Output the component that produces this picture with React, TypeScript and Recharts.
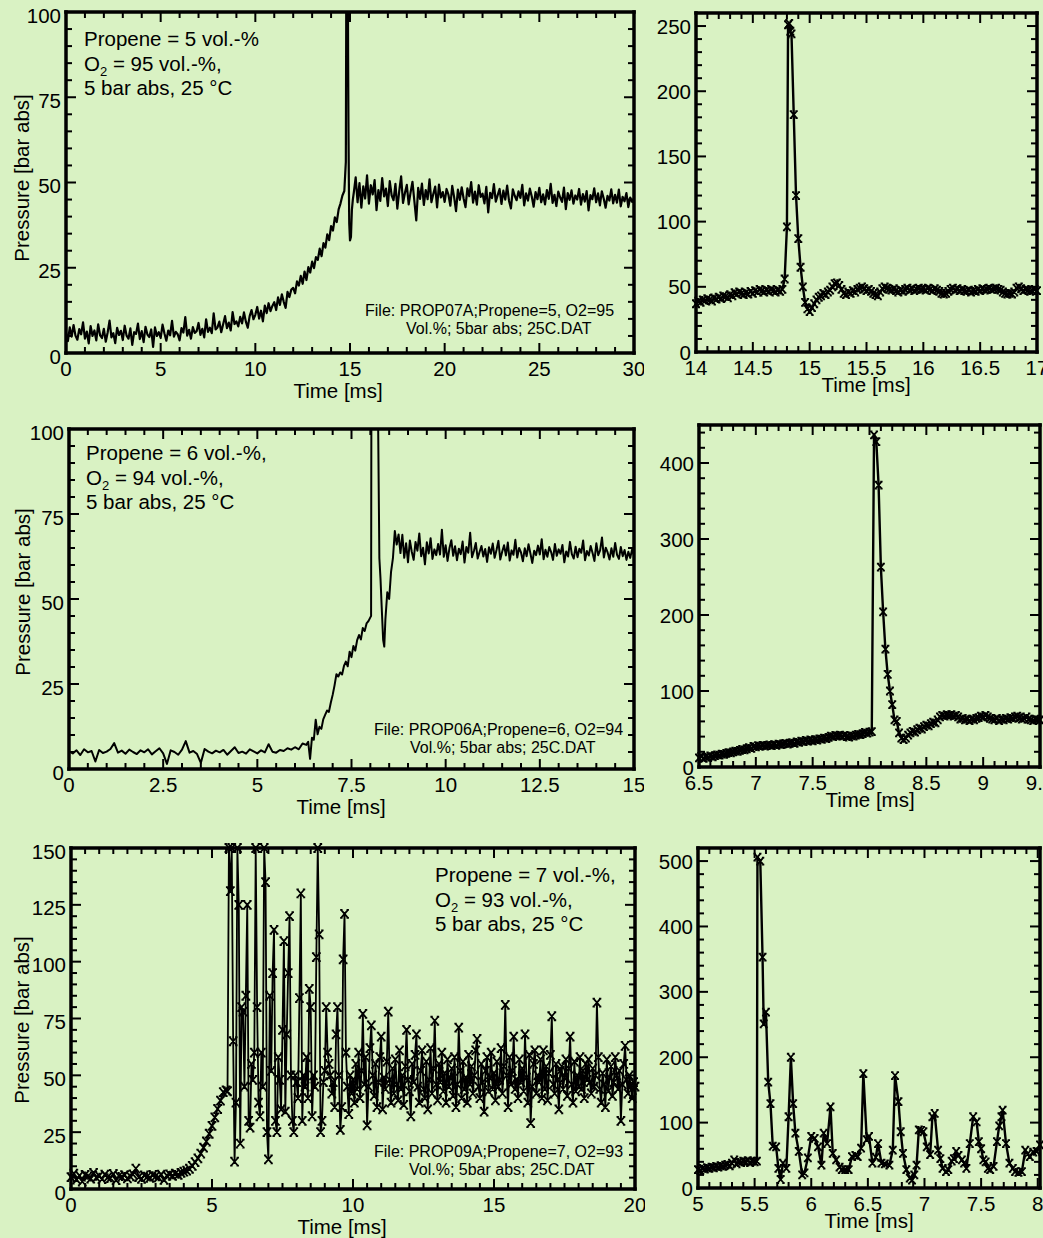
import { Line, LineChart, XAxis, YAxis } from "recharts";

const FONT = "'Liberation Sans', Arial, Helvetica, sans-serif";
const BG = "#D9F2C3";

type Pt = { t: number; p: number };

// uniformly sampled piece of a trace: start time, sample step, pressures
function seg(start: number, step: number, values: number[]): Pt[] {
  return values.map((p, i) => ({ t: +(start + i * step).toFixed(4), p }));
}
function pairs(list: number[][]): Pt[] {
  return list.map(([t, p]) => ({ t, p }));
}

// ---------- PROP07A, propene 5 % (overview 0-30 ms) ----------
const p1XTicks = [0, 5, 10, 15, 20, 25, 30];
const p1YTicks = [0, 25, 50, 75, 100];
const p1Pre = [
  6, 3.5, 7.5, 4.8, 8.2, 5.1, 3.9, 7, 5.5, 9,
  4.2, 6.3, 2.8, 7.9, 5, 6.6, 3.7, 8.4, 5.2, 4.4,
  7.1, 3.3, 6, 9.5, 4.6, 5.8, 2.9, 7.4, 5.3, 6.5,
  3.8, 8, 5.1, 4.2, 7.2, 2.4, 6.1, 5.6, 8.6, 4.1,
  6.4, 3.2, 7.7, 5.4, 4.7, 6.9, 1.8, 7.5, 5, 6.1,
  4.4, 8.3, 5.7, 3.6, 6.6, 5.2, 9.4, 4.8, 6.2, 5.5,
  3.7, 7.3, 6, 10.5, 5.1, 6.8, 4.2, 7.6, 5.9, 6.4,
  8.8, 5.3, 7.1, 4.6, 9.9, 6.2, 7.4, 5.8, 11.6, 6.9,
  7.5, 9.2, 6.1, 8.4, 10.8, 7.3, 8.9, 6.6, 12, 8.5,
  9.3, 7.8, 10.6, 8.7, 11.9, 9.2, 7.4, 10.8, 12.6, 9.9,
  11.2, 13.5, 10.1, 12.4, 9.3, 13.9, 11.7, 14.6, 12.3, 13.8,
  14.9, 12.6, 16.3, 14.1, 17.2, 15, 13.2, 17.9, 16.4, 18.6,
  19.1, 17.5, 21, 19.8, 22.6, 20.3, 23.9, 21.4, 25.2, 23.6,
  26.8, 24.9, 28.1, 27.3, 30.6, 28.4, 32.2, 30.9, 34.8, 33.1,
  37.2, 35.9, 39.8, 38.4, 42.1, 43.9, 46.2, 47.5,
];
const p1Spike = [
  [14.78, 56], [14.8, 96], [14.82, 251], [14.84, 244], [14.86, 182], [14.88, 120], [14.9, 87],
  [14.92, 65], [14.94, 50], [14.96, 38], [15.0, 33], [15.05, 34], [15.1, 42], [15.15, 45],
];
const p1Post = [
  47, 51.5, 44.2, 49.8, 42.6, 48.9, 45.3, 52.1,
  43.8, 49.2, 46.5, 50.7, 41.9, 47.8, 44.6, 51.3, 45.9, 48.2,
  43.1, 50.4, 46.2, 44.8, 49.6, 42.3, 47.5, 51.8, 44, 46.9,
  49.3, 43.6, 47.1, 50.2, 44.5, 38.9, 48.4, 45.2, 49.7, 43.4,
  47.8, 45.1, 50.9, 44.2, 46.6, 48.8, 42.7, 49.4, 45.6, 47.2,
  44.3, 48.1, 46.4, 43.2, 49, 45.7, 41.6, 47.9, 44.9, 48.6,
  45.3, 42.8, 48.3, 46, 50.1, 44.1, 47.3, 43.5, 49.2, 45.8,
  46.7, 43.9, 48.7, 41.2, 47, 45.4, 49.5, 44.4, 46.3, 48.1,
  43.7, 47.6, 45, 49.1, 44.6, 42.4, 48, 46.1, 44.8, 47.4,
  45.5, 49.3, 43.3, 46.8, 44.7, 48.2, 45.9, 42.9, 47.2, 45.1,
  48.4, 44.2, 46.5, 43.6, 47.8, 45.2, 49.6, 44, 46.4, 43.1,
  47.3, 45.6, 44.3, 48.5, 42.2, 46.9, 44.9, 47.7, 43.8, 46.2,
  45, 48.1, 43.5, 46.6, 44.4, 47.5, 41.8, 46.3, 45.1, 48.3,
  44.2, 46.8, 43.3, 47.4, 45.3, 42.6, 46.1, 44.7, 48, 43.9,
  46.4, 44.1, 47.9, 43, 45.8, 44.5, 46.9, 42.8, 45.6, 44.3,
  45.2,
];

// ---------- PROP07A, detail 14-17 ms ----------
const p2XTicks = [14, 14.5, 15, 15.5, 16, 16.5, 17];
const p2YTicks = [0, 50, 100, 150, 200, 250];
const p2Pre = [
  37, 39, 38, 40, 39.5, 41, 40, 39, 41.5, 40.5, 42, 41, 43, 42.5, 41.5, 44, 43, 45.5, 44.5, 46,
  45, 44, 45.5, 44.5, 46.5, 45, 47, 46, 48, 47, 46, 47.5, 46.5, 48, 47, 46, 47.5, 46.5, 48,
];
const p2Spike = [
  [14.78, 56], [14.8, 96], [14.81, 251], [14.82, 252], [14.83, 246], [14.84, 244], [14.86, 182],
  [14.88, 120], [14.9, 87], [14.92, 65], [14.94, 50], [14.96, 38], [14.98, 33],
];
const p2Post = [
  31, 34, 37, 40, 42, 43, 45, 44, 46, 47.5,
  50, 52.5, 53, 51, 48, 45, 44, 46, 45, 47,
  46, 48, 49, 50, 48.5, 47, 48, 46.5, 45, 44,
  43, 46, 48.5, 50, 49, 48, 47.5, 48.5, 47, 46,
  47.5, 46.5, 48, 49, 47.5, 48.5, 47, 48, 49, 48,
  48.5, 47.5, 49, 48, 47, 48.5, 47.5, 46.5, 45, 44.5,
  45, 46.5, 48, 49, 47.5, 48.5, 47, 48, 47, 46.5,
  47.5, 46, 47, 46.5, 48, 47, 48.5, 47.5, 48, 49,
  48, 48.5, 49, 48, 47.5, 46, 45, 44.5, 45, 44.5,
  46, 49, 50, 48.5, 47, 48, 47.5, 46.5, 47, 48,
  47,
];

// ---------- PROP06A, propene 6 % (overview 0-15 ms) ----------
const p3XTicks = [0, 2.5, 5, 7.5, 10, 12.5, 15];
const p3YTicks = [0, 25, 50, 75, 100];
const p3Pre = [
  5.2, 4.6, 5.5, 4.1, 5.8, 4.9, 5.3, 2.2, 5.6, 4.7,
  5.1, 5.9, 7.6, 4.8, 5.4, 4.5, 5.7, 5, 4.4, 5.5,
  4.9, 5.8, 4.3, 5.2, 6.1, 4.6, 1.5, 5.5, 5, 4.2,
  5.7, 8.2, 4.8, 5.3, 4.4, 1.8, 5.9, 5.1, 4.6, 5.4,
  4.9, 5.6, 4.2, 5.3, 6.4, 4.7, 5.1, 4.5, 5.8, 5.2,
  4.6, 5.5, 4.9, 7.3, 5.1, 4.8, 5.6, 5.3, 6.1, 5.7,
  6.4, 5.8, 7.5,
];
const p3Rise = [
  7.1, 8, 3, 9.2, 8.6, 14.5, 10.2, 12.4, 11.8, 14.6,
  15.9, 17.2, 16.8, 19.5, 21.8, 24.6, 27.9, 27.2, 28.4, 27.8,
  30.3, 31.6, 30.2, 34.5, 32.9, 36.2, 34.8, 37.9, 39.4, 38.1,
  41.5, 40.6, 42.8, 43.5, 44.6,
];
const p3Spike = [
  [8.02, 45], [8.04, 200], [8.06, 430], [8.1, 360], [8.15, 210], [8.2, 110], [8.24, 62],
  [8.27, 56], [8.3, 48], [8.34, 38], [8.37, 36], [8.4, 44], [8.45, 52], [8.5, 50],
  [8.55, 58], [8.6, 62], [8.65, 70], [8.7, 66], [8.75, 69],
];
const p3Post = [
  63.5, 68.9, 62.1, 66.4, 60.8, 67.2, 63.9, 61.5, 66.8, 64.2,
  69.3, 62.6, 65.1, 60.2, 66.7, 63.4, 67.9, 61.8, 64.6, 62.9,
  66.2, 63.1, 70.4, 62.4, 65.8, 61.2, 64.9, 67.3, 62.7, 65.5,
  61.4, 64.8, 63.2, 66.9, 60.7, 65.3, 63.6, 69.5, 62.3, 64.1,
  66.5, 61.9, 63.8, 65.6, 62.5, 64.7, 60.9, 65.2, 63.3, 66.3,
  62.1, 64.4, 67.1, 61.6, 63.9, 65.8, 62.8, 66.6, 61.3, 64.3,
  63, 67.4, 62.2, 65, 63.7, 61.1, 64.9, 62.6, 66.1, 63.4,
  60.6, 64.2, 62.9, 65.7, 63.1, 67.6, 61.7, 64.5, 62.4, 65.3,
  63.8, 61.5, 66.2, 62.7, 64.6, 63.3, 65.9, 60.8, 64, 62.5,
  66.8, 63.2, 61.9, 65.4, 62.3, 64.8, 63.6, 67.2, 61.4, 64.1,
  62.8, 65.6, 63.5, 61.2, 66.4, 62.9, 64.3, 68.1, 62.2, 65.1,
  63.7, 61.6, 64.9, 62.4, 66.5, 63, 61.8, 65.3, 62.6, 64.4,
  61.5, 63.9, 62.1, 64.6, 62.8,
];

// ---------- PROP06A, detail 6.5-9.5 ms ----------
const p4XTicks = [6.5, 7, 7.5, 8, 8.5, 9, 9.5];
const p4YTicks = [0, 100, 200, 300, 400];
const p4Pre = [
  12, 14, 11.5, 13, 12.5, 14.5, 13.5, 15, 16, 15.5,
  17, 16.5, 18, 19, 18.5, 20, 21, 20.5, 22, 23,
  22.5, 24, 25.5, 24.5, 27, 26.5, 28, 27.5, 28.5, 27.5,
  28.5, 29, 28, 29.5, 28.5, 30, 29.5, 30.5, 31, 30,
  31.5, 32, 31, 33, 32.5, 34, 33.5, 35, 34, 35.5,
  34.5, 36, 35.5, 37, 36.5, 38, 37.5, 39, 40.5, 40,
  41.5, 41, 42, 40.5, 41.5, 40, 39.5, 41, 40.5, 42,
  43, 42.5, 44, 45.5, 44.5, 46, 46.5,
];
const p4Spike = [
  [8.04, 437], [8.06, 428], [8.08, 371], [8.1, 263], [8.12, 204], [8.14, 155], [8.16, 122],
  [8.18, 100], [8.2, 82], [8.22, 62], [8.24, 60], [8.26, 45], [8.28, 38], [8.3, 36],
];
const p4Post = [
  38, 42, 45, 47, 46, 49, 51, 50, 53, 55,
  54, 57, 59, 58, 62, 66, 68, 67, 69, 68,
  69, 67, 68, 66, 63, 64, 62, 63, 61, 63,
  62, 64, 65, 67, 66, 68, 66, 64, 63, 62,
  64, 61, 63, 62, 64, 63, 65, 64, 66, 67,
  65, 63, 64, 66, 63, 62, 61, 63, 62, 62,
];

// ---------- PROP09A, propene 7 % (overview 0-20 ms) ----------
const p5XTicks = [0, 5, 10, 15, 20];
const p5YTicks = [0, 25, 50, 75, 100, 125, 150];
const p5Pre = [
  5.2, 6.8, 4.1, 5.9, 3.3, 6.2, 5.5, 4.6, 7.1, 5,
  5.8, 4.4, 6.3, 5.1, 4.8, 6.6, 3.9, 5.7, 5.3, 6.1,
  4.7, 5.6, 6.4, 9, 5.2, 4.5, 6, 5.4, 4.9, 6.2,
  5.6, 5.1, 6.3, 4, 5.9, 6.4, 5.8, 6.7, 6.2, 7.1,
  7.6, 8.1, 8.9, 10.2, 11.8, 13.5, 15.6, 18.2, 20.9, 24.3,
  27.8, 31.5, 35.2, 38.9, 42.6, 43.4,
];
const p5Burst = [
  43, 150, 131, 150, 65, 12, 38, 150, 125,
  20, 80, 78, 45, 85, 125, 30, 27, 55, 48,
  60, 150, 80, 38, 32, 60, 45, 150, 135, 25,
  13, 85, 52, 95, 114, 30, 25, 58, 48, 35,
  70, 109, 34, 68, 95, 120, 50, 30, 25, 50,
  47, 40, 84, 130, 30, 50, 45, 58, 40, 88,
  80, 32, 50, 45, 102, 150, 112, 25, 30, 47,
  52, 80, 60, 55, 50, 42, 47, 36, 68, 80,
  50, 26, 36, 101, 121, 60, 45, 33, 50, 42,
];
const p5Tail = [
  48, 38, 55, 44, 60, 40, 52, 77, 46, 58,
  28, 45, 62, 72, 50, 41, 55, 36, 47, 58,
  67, 35, 49, 44, 56, 78, 48, 38, 53, 42,
  57, 46, 39, 61, 44, 50, 37, 54, 70, 48,
  43, 32, 55, 47, 59, 68, 45, 38, 52, 61,
  44, 40, 56, 35, 48, 62, 42, 53, 74, 46,
  39, 55, 47, 60, 43, 51, 38, 57, 45, 49,
  53, 41, 58, 36, 46, 71, 52, 40, 56, 44,
  49, 38, 59, 46, 54, 42, 50, 61, 66, 45,
  40, 55, 47, 34, 52, 58, 43, 49, 60, 44,
  51, 39, 56, 45, 48, 62, 42, 54, 81, 50,
  36, 58, 46, 52, 67, 44, 48, 40, 57, 47,
  53, 43, 68, 49, 38, 59, 29, 45, 55, 61,
  42, 50, 47, 57, 40, 61, 44, 54, 39, 51,
  59, 76, 46, 42, 55, 48, 35, 52, 54, 44,
  49, 57, 41, 53, 67, 46, 38, 56, 43, 50,
  45, 58, 44, 52, 40, 55, 48, 57, 47, 42,
  53, 45, 50, 82, 58, 44, 38, 51, 46, 36,
  57, 43, 49, 54, 41, 47, 58, 50, 44, 52,
  30, 46, 55, 63, 48, 42, 50, 45, 40, 47,
  45,
];

// ---------- PROP09A, detail 5-8 ms ----------
const p6XTicks = [5, 5.5, 6, 6.5, 7, 7.5, 8];
const p6YTicks = [0, 100, 200, 300, 400, 500];
const p6Pre = [
  28, 27, 30, 29, 31, 30, 32, 31, 33, 32, 34, 33, 35, 36, 34, 38, 43, 37, 40, 39,
  41, 40, 42, 39, 41, 40,
];
const p6Burst = [
  [5.52, 41], [5.525, 506], [5.55, 500], [5.57, 353], [5.58, 251], [5.6, 269], [5.62, 162],
  [5.64, 129], [5.66, 64], [5.69, 63], [5.71, 30], [5.73, 13], [5.75, 38], [5.78, 30],
  [5.8, 109], [5.82, 200], [5.84, 129], [5.86, 84], [5.89, 56], [5.92, 20], [5.94, 23],
  [5.97, 46], [6.0, 79], [6.03, 76], [6.06, 63], [6.09, 35], [6.11, 84], [6.14, 68],
  [6.17, 124], [6.19, 53], [6.22, 43], [6.25, 32], [6.27, 28], [6.3, 28], [6.33, 28],
  [6.36, 48], [6.39, 50], [6.41, 48], [6.44, 61], [6.46, 175], [6.49, 74], [6.51, 79],
  [6.54, 38], [6.57, 47], [6.59, 68], [6.62, 38], [6.65, 37], [6.69, 35], [6.72, 58],
  [6.74, 172], [6.77, 132], [6.79, 86], [6.81, 53], [6.84, 28], [6.87, 15], [6.89, 12],
  [6.91, 20], [6.93, 35], [6.95, 89], [6.97, 88], [6.99, 86], [7.02, 63], [7.05, 51],
  [7.07, 109], [7.09, 114], [7.12, 58], [7.14, 45], [7.16, 30], [7.19, 25], [7.21, 28],
  [7.24, 41], [7.26, 45], [7.28, 56], [7.3, 50], [7.33, 43], [7.35, 38], [7.37, 30],
  [7.4, 68], [7.43, 109], [7.46, 101], [7.48, 71], [7.5, 60], [7.52, 43], [7.54, 40],
  [7.56, 30], [7.58, 28], [7.61, 33], [7.64, 71], [7.66, 95], [7.68, 109], [7.69, 119],
  [7.72, 68], [7.75, 38], [7.78, 30], [7.8, 25], [7.83, 24], [7.86, 25], [7.89, 58],
  [7.91, 52], [7.93, 48], [7.96, 55], [7.99, 56], [8.02, 66],
];

const p1Data = [...seg(0, 0.1, p1Pre), ...pairs(p1Spike), ...seg(15.2, 0.1, p1Post)];
const p2Data = [...seg(14, 0.02, p2Pre), ...pairs(p2Spike), ...seg(15, 0.02, p2Post)];
const p3Data = [...seg(0, 0.1, p3Pre), ...seg(6.3, 0.05, p3Rise), ...pairs(p3Spike), ...seg(8.8, 0.05, p3Post)];
const p4Data = [...seg(6.5, 0.02, p4Pre), ...pairs(p4Spike), ...seg(8.32, 0.02, p4Post)];
const p5Data = [...seg(0, 0.1, p5Pre), ...seg(5.55, 0.05, p5Burst), ...seg(10, 0.05, p5Tail)];
const p6Data = [...seg(5, 0.02, p6Pre), ...pairs(p6Burst)];

function tickList(lo: number, hi: number, step: number) {
  const out: number[] = [];
  const n = Math.floor((hi - lo) / step + 1e-9);
  for (let i = 0; i <= n; i++) out.push(+(lo + i * step).toFixed(4));
  return out;
}

type Side = "bottom" | "top" | "left" | "right";

function makeTick(side: Side, major: number[], labelDy = 0) {
  return (props: any) => {
    const { x, y, payload } = props;
    const v = payload.value;
    const isMajor = major.some((m) => Math.abs(m - v) < 1e-6);
    const len = isMajor ? 10 : 6;
    const lineStyle = { stroke: "#000", strokeWidth: 2 };
    let tick;
    let label = null;
    if (side === "bottom") {
      tick = <line x1={x} y1={y} x2={x} y2={y - len} {...lineStyle} />;
      if (isMajor)
        label = (
          <text x={x} y={y + 23} textAnchor="middle" fontSize={20.5} fill="#000" fontFamily={FONT}>
            {String(v)}
          </text>
        );
    } else if (side === "top") {
      tick = <line x1={x} y1={y} x2={x} y2={y + len} {...lineStyle} />;
    } else if (side === "left") {
      tick = <line x1={x} y1={y} x2={x + len} y2={y} {...lineStyle} />;
      if (isMajor)
        label = (
          <text x={x - 5} y={y + 7.5 + labelDy} textAnchor="end" fontSize={20.5} fill="#000" fontFamily={FONT}>
            {String(v)}
          </text>
        );
    } else {
      tick = <line x1={x} y1={y} x2={x - len} y2={y} {...lineStyle} />;
    }
    return (
      <g>
        {tick}
        {label}
      </g>
    );
  };
}

// "x" marker with small serifs, like the plotting program's cross symbol
function makeMarker(w: number, h: number, sw: number) {
  return (props: any) => {
    const { cx, cy, index } = props;
    if (cx == null || cy == null || isNaN(cx) || isNaN(cy)) return <g key={index} />;
    const d =
      `M${cx - w},${cy - h}L${cx + w},${cy + h}M${cx + w},${cy - h}L${cx - w},${cy + h}` +
      `M${cx - w - 1},${cy - h}h2.4M${cx + w - 1.4},${cy - h}h2.4` +
      `M${cx - w - 1},${cy + h}h2.4M${cx + w - 1.4},${cy + h}h2.4`;
    return <path key={index} d={d} stroke="#000" strokeWidth={sw} fill="none" />;
  };
}

interface PanelCfg {
  data: Pt[];
  box: [number, number, number, number];
  xDomain: [number, number];
  yDomain: [number, number];
  xMajor: number[];
  xMinor: number;
  yMajor: number[];
  yMinor: number;
  lineWidth: number;
  marker: ((props: any) => any) | null;
  overflow: boolean;
  yLabelDy: number;
}

const smallX = makeMarker(3, 3.5, 1.8);
const bigX = makeMarker(3.4, 4, 1.8);

const panels: PanelCfg[] = [
  { data: p1Data, box: [66, 12, 634, 353], xDomain: [0, 30], yDomain: [0, 100], xMajor: p1XTicks, xMinor: 1, yMajor: p1YTicks, yMinor: 5, lineWidth: 2.2, marker: null, overflow: true, yLabelDy: 3 },
  { data: p2Data, box: [696, 13, 1037, 352], xDomain: [14, 17], yDomain: [0, 260], xMajor: p2XTicks, xMinor: 0.1, yMajor: p2YTicks, yMinor: 10, lineWidth: 2.4, marker: smallX, overflow: false, yLabelDy: 0 },
  { data: p3Data, box: [69, 429, 634, 769], xDomain: [0, 15], yDomain: [0, 100], xMajor: p3XTicks, xMinor: 0.5, yMajor: p3YTicks, yMinor: 5, lineWidth: 2, marker: null, overflow: true, yLabelDy: 3 },
  { data: p4Data, box: [699, 425, 1040, 767], xDomain: [6.5, 9.5], yDomain: [0, 450], xMajor: p4XTicks, xMinor: 0.1, yMajor: p4YTicks, yMinor: 20, lineWidth: 2.4, marker: smallX, overflow: false, yLabelDy: 0 },
  { data: p5Data, box: [71, 848, 635, 1189], xDomain: [0, 20], yDomain: [0, 150], xMajor: p5XTicks, xMinor: 0.5, yMajor: p5YTicks, yMinor: 5, lineWidth: 1.8, marker: bigX, overflow: false, yLabelDy: 3 },
  { data: p6Data, box: [698, 848, 1040, 1188], xDomain: [5, 8], yDomain: [0, 520], xMajor: p6XTicks, xMinor: 0.1, yMajor: p6YTicks, yMinor: 20, lineWidth: 2.4, marker: smallX, overflow: false, yLabelDy: 0 },
];

function PanelChart({ cfg }: { cfg: PanelCfg }) {
  const [l, t, r, b] = cfg.box;
  const LW = 70;
  const TH = 10;
  const RW = 10;
  const BH = 34;
  const w = LW + (r - l) + RW;
  const h = TH + (b - t) + BH;
  const xTicks = tickList(cfg.xDomain[0], cfg.xDomain[1], cfg.xMinor);
  const yTicks = tickList(cfg.yDomain[0], cfg.yDomain[1], cfg.yMinor);
  const axisLine: any = { stroke: "#000", strokeWidth: 3.5, strokeLinecap: "square" };
  return (
    <div style={{ position: "absolute", left: l - LW, top: t - TH }}>
      <LineChart width={w} height={h} data={cfg.data} margin={{ top: 0, right: 0, bottom: 0, left: 0 }}>
        <XAxis xAxisId="b" dataKey="t" type="number" domain={cfg.xDomain} ticks={xTicks} interval={0}
          height={BH} tickSize={0} tickMargin={0} tickLine={false} axisLine={axisLine}
          tick={makeTick("bottom", cfg.xMajor)} allowDataOverflow={cfg.overflow} />
        <XAxis xAxisId="t" orientation="top" dataKey="t" type="number" domain={cfg.xDomain} ticks={xTicks} interval={0}
          height={TH} tickSize={0} tickMargin={0} tickLine={false} axisLine={axisLine}
          tick={makeTick("top", cfg.xMajor)} allowDataOverflow={cfg.overflow} />
        <YAxis yAxisId="l" type="number" domain={cfg.yDomain} ticks={yTicks} interval={0}
          width={LW} tickSize={0} tickMargin={0} tickLine={false} axisLine={axisLine}
          tick={makeTick("left", cfg.yMajor, cfg.yLabelDy)} allowDataOverflow={cfg.overflow} />
        <YAxis yAxisId="r" orientation="right" type="number" domain={cfg.yDomain} ticks={yTicks} interval={0}
          width={RW} tickSize={0} tickMargin={0} tickLine={false} axisLine={axisLine}
          tick={makeTick("right", cfg.yMajor)} allowDataOverflow={cfg.overflow} />
        <Line xAxisId="t" yAxisId="r" dataKey="p" type="linear" stroke="none" dot={false} isAnimationActive={false} />
        <Line xAxisId="b" yAxisId="l" dataKey="p" type="linear" stroke="#000" strokeWidth={cfg.lineWidth}
          strokeLinejoin="round" dot={cfg.marker ? cfg.marker : false} activeDot={false} isAnimationActive={false} />
      </LineChart>
    </div>
  );
}

function Conditions({ x, y, propene, o2, comma }: { x: number; y: number; propene: number; o2: number; comma: boolean }) {
  return (
    <g fontSize={20.5} fill="#000">
      <text x={x} y={y}>{`Propene = ${propene} vol.-%${comma ? "," : ""}`}</text>
      <text x={x} y={y + 24.5}>
        O<tspan fontSize={13} dy={5}>2</tspan>
        <tspan dy={-5}>{` = ${o2} vol.-%,`}</tspan>
      </text>
      <text x={x} y={y + 49}>5 bar abs, 25 °C</text>
    </g>
  );
}

function FileNote({ x1, x2, y, name, propene, o2 }: { x1: number; x2: number; y: number; name: string; propene: number; o2: number }) {
  return (
    <g fontSize={16} fill="#000">
      <text x={x1} y={y}>{`File: ${name};Propene=${propene}, O2=${o2}`}</text>
      <text x={x2} y={y + 18}>Vol.%; 5bar abs; 25C.DAT</text>
    </g>
  );
}

export default function App() {
  return (
    <div style={{ position: "absolute", left: 0, top: 0, width: 1043, height: 1238, overflow: "hidden", background: BG, fontFamily: FONT }}>
      {panels.map((cfg, i) => (
        <PanelChart key={i} cfg={cfg} />
      ))}
      <svg width={1043} height={1238} style={{ position: "absolute", left: 0, top: 0, pointerEvents: "none" }} fontFamily={FONT}>
        <g fontSize={20.5} fill="#000" textAnchor="middle">
          <text x={338} y={398}>Time [ms]</text>
          <text x={866} y={392}>Time [ms]</text>
          <text x={341} y={814}>Time [ms]</text>
          <text x={870} y={807}>Time [ms]</text>
          <text x={342} y={1234}>Time [ms]</text>
          <text x={869} y={1228}>Time [ms]</text>
          <text transform="translate(29,178) rotate(-90)">Pressure [bar abs]</text>
          <text transform="translate(30,592) rotate(-90)">Pressure [bar abs]</text>
          <text transform="translate(29,1020) rotate(-90)">Pressure [bar abs]</text>
        </g>
        <Conditions x={84} y={46} propene={5} o2={95} comma={false} />
        <Conditions x={86} y={460} propene={6} o2={94} comma={true} />
        <Conditions x={435} y={882} propene={7} o2={93} comma={true} />
        <FileNote x1={365} x2={406} y={316} name="PROP07A" propene={5} o2={95} />
        <FileNote x1={374} x2={410} y={735} name="PROP06A" propene={6} o2={94} />
        <FileNote x1={374} x2={409} y={1157} name="PROP09A" propene={7} o2={93} />
      </svg>
    </div>
  );
}
